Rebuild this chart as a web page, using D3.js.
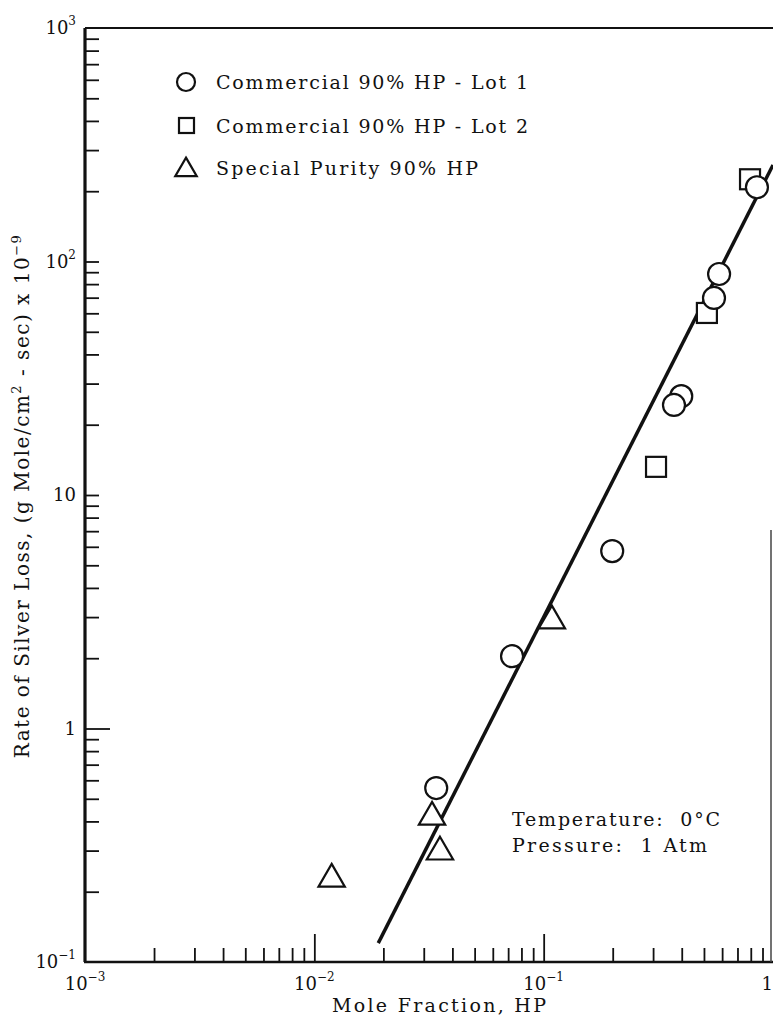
<!DOCTYPE html>
<html><head><meta charset="utf-8">
<script src="https://cdn.jsdelivr.net/npm/d3@7"></script>
<style>body{margin:0;background:#fff}svg{display:block}text{font-family:"DejaVu Serif",serif;fill:#111}</style>
</head><body>
<svg id="c" width="773" height="1023"></svg>
<script>
// Data
const lot1X = [0.851, 0.582, 0.553, 0.398, 0.370, 0.199, 0.0728, 0.034];
const lot1Y = [208, 88.4, 69.8, 26.5, 24.3, 5.75, 2.04, 0.556];
const lot2X = [0.794, 0.515, 0.309];
const lot2Y = [225, 60.2, 13.2];
const specX = [0.1086, 0.0326, 0.0353, 0.0119];
const specY = [2.95, 0.426, 0.302, 0.231];
const fitX = [0.0190, 1.0];
const fitY = [0.1205, 259];
const xMajor = [1e-3, 1e-2, 1e-1, 1];
const xMajorLabels = [["10","−3"],["10","−2"],["10","−1"],["1",""]];
const yMajor = [1000, 100, 10, 1, 0.1];
const yMajorLabels = [["10","3"],["10","2"],["10",""],["1",""],["10","−1"]];
const legendLabels = ["Commercial 90% HP - Lot 1","Commercial 90% HP - Lot 2","Special Purity 90% HP"];
const noteLines = ["Temperature:\u00a0\u00a00°C","Pressure:\u00a0\u00a01 Atm"];

const svg = d3.select("#c");
const x = d3.scaleLog().domain([1e-3, 1]).range([85, 773]);
const y = d3.scaleLog().domain([0.1, 1000]).range([962, 28]);

const minorX = [], minorY = [];
[1e-3,1e-2,1e-1].forEach(d=>{for(let k=2;k<=9;k++) minorX.push(d*k);});
[0.1,1,10,100].forEach(d=>{for(let k=2;k<=9;k++) minorY.push(d*k);});

const gx = svg.append("g").attr("transform","translate(0,962)");
gx.call(d3.axisBottom(x).tickValues(minorX).tickSize(-14).tickFormat(""));
gx.append("g").call(d3.axisBottom(x).tickValues([1e-2,1e-1]).tickSize(-28).tickFormat(""));
gx.selectAll(".domain").remove();
gx.selectAll("line").attr("stroke","#111").attr("stroke-width",1.8);

const gy = svg.append("g").attr("transform","translate(85,0)");
gy.call(d3.axisLeft(y).tickValues(minorY.concat([10,100])).tickSize(-14).tickFormat(""));
gy.append("g").call(d3.axisLeft(y).tickValues([1]).tickSize(-25).tickFormat(""));
gy.selectAll(".domain").remove();
gy.selectAll("line").attr("stroke","#111").attr("stroke-width",1.8);

// frame
svg.append("line").attr("x1",85).attr("x2",85).attr("y1",y(1000)).attr("y2",y(0.1)).attr("stroke","#111").attr("stroke-width",3.2);
svg.append("line").attr("x1",84).attr("x2",773).attr("y1",y(0.1)).attr("y2",y(0.1)).attr("stroke","#111").attr("stroke-width",2.6);
svg.append("line").attr("x1",85).attr("x2",773).attr("y1",y(1000)).attr("y2",y(1000)).attr("stroke","#111").attr("stroke-width",2);
svg.append("line").attr("x1",771).attr("x2",771).attr("y1",530).attr("y2",y(0.1)).attr("stroke","#444").attr("stroke-width",1.5);

function supLabel(g, base, sup){
  g.append("tspan").text(base);
  if(sup) g.append("tspan").attr("dy",-9).attr("font-size",12).text(sup);
}
xMajor.forEach((v,i)=>{
  const last = i === xMajor.length-1;
  const t = svg.append("text").attr("x",last ? 773 : x(v)).attr("y",990)
    .attr("text-anchor",last ? "end" : "middle").attr("font-size",18);
  supLabel(t, xMajorLabels[i][0], xMajorLabels[i][1]);
});
yMajor.forEach((v,i)=>{
  const t = svg.append("text").attr("x",76).attr("y",y(v)+6).attr("text-anchor","end").attr("font-size",18);
  supLabel(t, yMajorLabels[i][0], yMajorLabels[i][1]);
});

// axis titles
svg.append("text").attr("x",332).attr("y",1012).attr("font-size",19)
  .attr("textLength",214).attr("lengthAdjust","spacing").text("Mole Fraction, HP");
const yt = svg.append("text").attr("transform","translate(29,496) rotate(-90)").attr("text-anchor","middle")
  .attr("font-size",20).attr("letter-spacing",1.5);
yt.append("tspan").text("Rate of Silver Loss, (g Mole/cm");
yt.append("tspan").attr("dy",-8).attr("font-size",13).text("2");
yt.append("tspan").attr("dy",8).text(" - sec) x 10");
yt.append("tspan").attr("dy",-8).attr("font-size",13).text("−9");

// fit line
svg.append("line").attr("x1",x(fitX[0])).attr("y1",y(fitY[0])).attr("x2",x(fitX[1])).attr("y2",y(fitY[1]))
  .attr("stroke","#111").attr("stroke-width",3.5);

const tri = d3.symbol().type(d3.symbolTriangle).size(300);
const ptStyle = s => s.attr("fill","#fff").attr("stroke","#111").attr("stroke-width",2.2);

lot2X.forEach((v,i)=>{
  ptStyle(svg.append("rect").attr("x",x(v)-10).attr("y",y(lot2Y[i])-10).attr("width",20).attr("height",20));
});
lot1X.forEach((v,i)=>{
  ptStyle(svg.append("circle").attr("cx",x(v)).attr("cy",y(lot1Y[i])).attr("r",11));
});
specX.forEach((v,i)=>{
  ptStyle(svg.append("path").attr("d",tri).attr("transform",`translate(${x(v)},${y(specY[i])+2})`));
});

// legend
const lg = svg.append("g");
ptStyle(lg.append("circle").attr("cx",186).attr("cy",82).attr("r",9));
ptStyle(lg.append("rect").attr("x",179).attr("y",118).attr("width",15).attr("height",15));
ptStyle(lg.append("path").attr("d",d3.symbol().type(d3.symbolTriangle).size(200)).attr("transform","translate(186,170)"));
const legendLen = [312, 312, 262];
legendLabels.forEach((s,i)=>{
  lg.append("text").attr("x",216).attr("y",[89,133,175][i]).attr("font-size",19)
    .attr("textLength",legendLen[i]).attr("lengthAdjust","spacing").text(s);
});

const noteLen = [208, 195];
noteLines.forEach((s,i)=>{
  svg.append("text").attr("x",512).attr("y",826+i*26).attr("font-size",19)
    .attr("textLength",noteLen[i]).attr("lengthAdjust","spacing").text(s);
});
</script>
</body></html>
